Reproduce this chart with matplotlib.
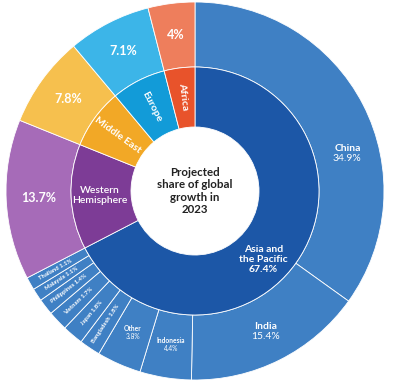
import numpy as np
import matplotlib
matplotlib.use("Agg")
import matplotlib.pyplot as plt

plt.rcParams["font.family"] = ["Lato", "DejaVu Sans"]

# inner ring: regions
regions = ["Asia and\nthe Pacific", "Western\nHemisphere", "Middle East", "Europe", "Africa"]
region_share = [67.4, 13.7, 7.8, 7.1, 4.0]
region_outer = ["#3f80c4", "#a66bb8", "#f6c04e", "#3cb5e8", "#ee7e5c"]
region_inner = ["#1c57a7", "#7d3c96", "#f2a826", "#129bd8", "#e8532b"]

# outer ring: Asian countries then the other regions
countries = ["China", "India", "Indonesia", "Other", "Bangladesh", "Japan",
             "Vietnam", "Philippines", "Malaysia", "Thailand"]
country_share = [34.9, 15.4, 4.4, 3.8, 1.8, 1.8, 1.7, 1.4, 1.1, 1.1]

CX, CY = 195, 198
R_OUT, R_MID, R_IN = 189, 124, 64

fig = plt.figure(figsize=(4, 3.89), dpi=100)
ax = fig.add_axes([0, 0, 1, 1])
ax.axis("off")

outer_vals = country_share + region_share[1:]
outer_cols = [region_outer[0]] * len(country_share) + region_outer[1:]
wp = dict(edgecolor="white", linewidth=0.6)
ax.pie(outer_vals, colors=outer_cols, startangle=90, counterclock=False,
       radius=R_OUT, center=(CX, CY), wedgeprops=dict(width=R_OUT - R_MID, **wp))
ax.pie(region_share, colors=region_inner, startangle=90, counterclock=False,
       radius=R_MID, center=(CX, CY), wedgeprops=dict(width=R_MID - R_IN, **wp))
ax.set_xlim(0, 400)
ax.set_ylim(0, 389)
ax.set_aspect("equal")


def mid_angles(vals):
    cum = np.cumsum([0] + list(vals))
    mids = (cum[:-1] + cum[1:]) / 2 / 100.0
    return 90 - mids * 360


def pos(ang, r):
    a = np.deg2rad(ang)
    return CX + r * np.cos(a), CY + r * np.sin(a)


# outer labels
o_ang = mid_angles(outer_vals)
for i, name in enumerate(countries):
    a = o_ang[i]
    if name == "China":
        x, y = pos(14, 157)
        ax.text(x, y + 5, "China", color="white", fontsize=7.5, fontweight="bold", ha="center", va="center")
        ax.text(x, y - 5, "34.9%", color="white", fontsize=7.5, ha="center", va="center")
    elif name == "India":
        x, y = pos(a, 157)
        ax.text(x, y + 5, "India", color="white", fontsize=7.5, fontweight="bold", ha="center", va="center")
        ax.text(x, y - 5, "15.4%", color="white", fontsize=7.5, ha="center", va="center")
    elif name in ("Indonesia", "Other"):
        x, y = pos(a, 155)
        ax.text(x, y + 4, name, color="white", fontsize=4.8, fontweight="bold", ha="center", va="center")
        ax.text(x, y - 4, "%.1f%%" % country_share[i], color="white", fontsize=4.8, ha="center", va="center")
    else:
        x, y = pos(a, 160)
        ax.text(x, y, "%s %.1f%%" % (name, country_share[i]), color="white", fontsize=4.3,
                fontweight="bold", ha="center", va="center", rotation=a + 180,
                rotation_mode="anchor")
for j in range(1, len(region_share)):
    a = o_ang[len(countries) + j - 1]
    x, y = pos(a, 157)
    lab = "%g%%" % region_share[j]
    ax.text(x, y, lab, color="white", fontsize=9, fontweight="bold", ha="center", va="center")

# inner labels
i_ang = mid_angles(region_share)
x, y = pos(-45, 97)
ax.text(x, y, "Asia and\nthe Pacific\n67.4%", color="white", fontsize=7.5, fontweight="bold",
        ha="center", va="center", linespacing=1.1)
x, y = pos(i_ang[1], 95)
ax.text(x, y, regions[1], color="white", fontsize=7.5, fontweight="semibold",
        ha="center", va="center", linespacing=1.1)
for j in (2, 3, 4):
    x, y = pos(i_ang[j], 95)
    ax.text(x, y, regions[j], color="white", fontsize=7.5, fontweight="bold", ha="center", va="center",
            rotation=i_ang[j] - 180, rotation_mode="anchor")

ax.text(CX, CY, "Projected\nshare of global\ngrowth in\n2023", color="#222222",
        fontsize=8.3, fontweight="bold", ha="center", va="center", linespacing=1.12)

fig.savefig("out.png", dpi=100)
